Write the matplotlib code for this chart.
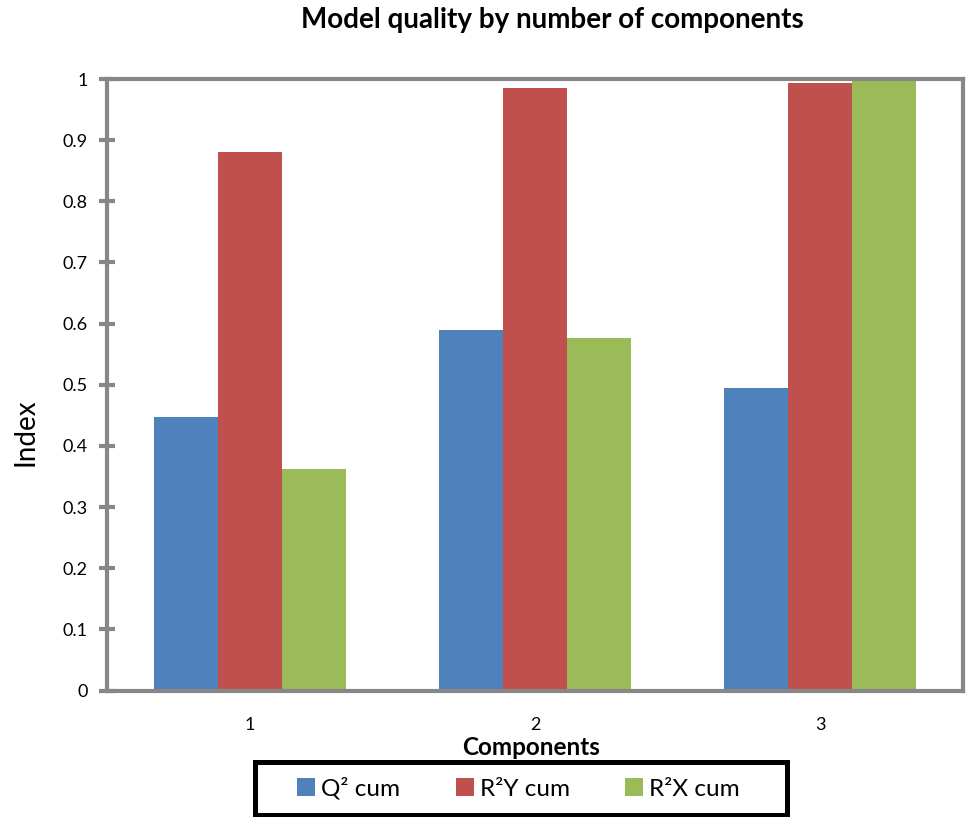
import matplotlib
matplotlib.use("Agg")
import matplotlib.pyplot as plt
from matplotlib.patches import Patch, Rectangle
import numpy as np

plt.rcParams['font.family'] = ['Lato', 'DejaVu Sans']

# cumulative model quality per number of components
components = ["1", "2", "3"]
q2_cum = [0.447, 0.589, 0.495]
r2y_cum = [0.881, 0.985, 0.994]
r2x_cum = [0.362, 0.576, 0.998]

series = [("Q² cum", q2_cum, "#4F81BD"),
          ("R²Y cum", r2y_cum, "#C0504D"),
          ("R²X cum", r2x_cum, "#9BBB59")]

fig = plt.figure(figsize=(9.7, 8.17), dpi=100)
ax = fig.add_axes([0.1103, 0.1548, 0.8825, 0.7485])

x = np.arange(len(components))
w = 0.224
for k, (name, vals, col) in enumerate(series):
    ax.bar(x + (k - 1) * w, vals, width=w, color=col, edgecolor="none", label=name)

ax.set_xlim(-0.5, len(components) - 0.5)
ax.set_ylim(0, 1)
ax.set_xticks(x)
ax.set_xticklabels(components)
yt = np.round(np.arange(0, 1.01, 0.1), 1)
ax.set_yticks(yt)
ax.set_yticklabels(["0" if v == 0 else ("1" if v == 1 else f"{v:g}") for v in yt])

grey = "#878787"
for s in ax.spines.values():
    s.set_color(grey)
    s.set_linewidth(3)
ax.tick_params(axis="y", direction="inout", length=12, width=3, color=grey,
               labelsize=13, pad=8)
ax.tick_params(axis="x", length=0, labelsize=13, pad=19)

fig.text(0.569, 0.975, "Model quality by number of components",
         ha="center", va="center", fontsize=20, fontweight="bold")
fig.text(0.026, 0.471, "Index", rotation=90, ha="center", va="center", fontsize=20)
fig.text(0.547, 0.085, "Components", ha="center", va="center",
         fontsize=17.5, fontweight="bold")

# legend entries without frame, plus a separate heavy black box around them
handles = [Patch(facecolor=c, edgecolor="none") for _, _, c in series]
leg = fig.legend(handles, [n for n, _, _ in series], loc="center",
                 bbox_to_anchor=(0.5345, 0.035), ncol=3, frameon=False,
                 fontsize=17.5, handlelength=0.74, handleheight=0.74,
                 handletextpad=0.25, columnspacing=2.27, borderpad=0,
                 borderaxespad=0)
fig.add_artist(Rectangle((0.2629, 0.0025), 0.5485, 0.0649, transform=fig.transFigure,
                         facecolor="none", edgecolor="black", linewidth=3.6))

fig.savefig("out.png", dpi=100, facecolor="white")
